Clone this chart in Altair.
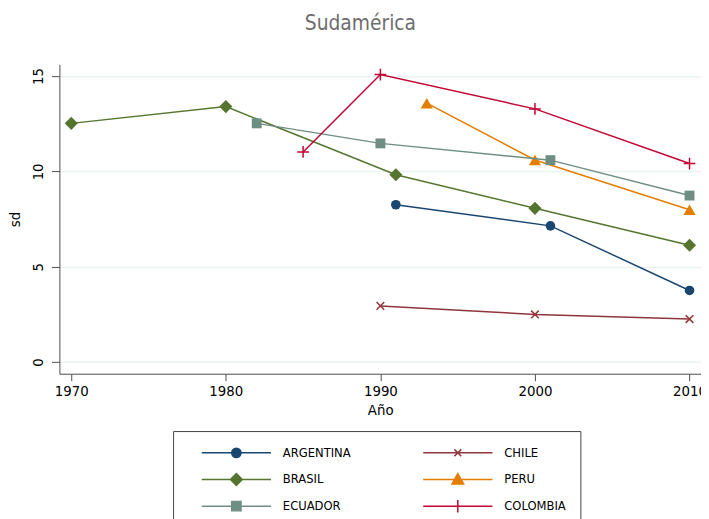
import altair as alt
import pandas as pd

# ---------------- data ----------------
names = ["ARGENTINA", "CHILE", "BRASIL", "PERU", "ECUADOR", "COLOMBIA"]
colors = ["#1a476f", "#90353b", "#55752f", "#e37e00", "#6e8e84", "#c10534"]
legend_order = ["ARGENTINA", "BRASIL", "ECUADOR", "CHILE", "PERU", "COLOMBIA"]

argentina_years = [1991, 2001, 2010]
argentina_sd = [8.25, 7.14, 3.75]
chile_years = [1990, 2000, 2010]
chile_sd = [2.94, 2.49, 2.25]
brasil_years = [1970, 1980, 1991, 2000, 2010]
brasil_sd = [12.52, 13.40, 9.82, 8.06, 6.12]
peru_years = [1993, 2000, 2010]
peru_sd = [13.58, 10.60, 7.99]
ecuador_years = [1982, 1990, 2001, 2010]
ecuador_sd = [12.52, 11.47, 10.59, 8.73]
colombia_years = [1985, 1990, 2000, 2010]
colombia_sd = [11.02, 15.08, 13.28, 10.41]

x_ticks = [1970, 1980, 1990, 2000, 2010]
y_ticks = [0, 5, 10, 15]

series = {
    "ARGENTINA": (argentina_years, argentina_sd),
    "CHILE": (chile_years, chile_sd),
    "BRASIL": (brasil_years, brasil_sd),
    "PERU": (peru_years, peru_sd),
    "ECUADOR": (ecuador_years, ecuador_sd),
    "COLOMBIA": (colombia_years, colombia_sd),
}

rows = []
for n in names:
    ys, vs = series[n]
    for yr, v in zip(ys, vs):
        rows.append({"name": n, "year": yr, "sd": v})
df = pd.DataFrame(rows)

# ---------------- styles ----------------
FONT = "Liberation Sans Narrow, DejaVu Sans Condensed, sans-serif"

marker_style = {
    "ARGENTINA": dict(shape="circle", size=95, filled=True, strokeWidth=0),
    "CHILE": dict(shape="M-1,-1L1,1M-1,1L1,-1", size=60, filled=False, strokeWidth=1.5),
    "BRASIL": dict(shape="diamond", size=175, filled=True, strokeWidth=0),
    "PERU": dict(shape="triangle-up", size=150, filled=True, strokeWidth=0),
    "ECUADOR": dict(shape="square", size=100, filled=True, strokeWidth=0),
    "COLOMBIA": dict(shape="M-1,0H1M0,-1V1", size=140, filled=False, strokeWidth=1.5),
}

legend_paths = {
    "ARGENTINA": "M-1,0H1M-0.135,0A0.135,0.135,0,1,0,0.135,0A0.135,0.135,0,1,0,-0.135,0Z",
    "CHILE": "M-1,0H1M-0.1,-0.1L0.1,0.1M-0.1,0.1L0.1,-0.1",
    "BRASIL": "M-1,0H1M0,-0.17L0.17,0L0,0.17L-0.17,0Z",
    "PERU": "M-1,0H1M0,-0.17L0.17,0.13L-0.17,0.13Z",
    "ECUADOR": "M-1,0H1M-0.135,-0.135H0.135V0.135H-0.135Z",
    "COLOMBIA": "M-1,0H1M0,-0.18V0.18",
}

color_of = dict(zip(names, colors))


def ordered(order):
    # same name->colour mapping, listed in the given domain order
    return alt.Scale(domain=order, range=[color_of[n] for n in order])


x_scale = alt.Scale(domain=[1969.233, 2010.742], nice=False, zero=False)
y_scale = alt.Scale(domain=[-0.62, 15.62], nice=False, zero=False)
c_scale = ordered(names[::-1])

x_enc = alt.X(
    "year:Q", scale=x_scale, title="Año",
    axis=alt.Axis(values=x_ticks, format="d", grid=False, tickSize=7,
                  labelPadding=3, titlePadding=4),
)
y_enc = alt.Y(
    "sd:Q", scale=y_scale, title="sd",
    axis=alt.Axis(values=y_ticks, grid=True, tickSize=8, labelAngle=270,
                  labelPadding=6, titlePadding=8),
)

layers = []
for n in names:
    sub = alt.Chart(df).transform_filter(alt.datum.name == n)
    layers.append(
        sub.mark_line(strokeWidth=1.5).encode(
            x=x_enc, y=y_enc, color=alt.Color("name:N", scale=c_scale, legend=None)
        )
    )
    layers.append(
        sub.mark_point(opacity=1, **marker_style[n]).encode(
            x=x_enc, y=y_enc, color=alt.Color("name:N", scale=c_scale, legend=None)
        )
    )

legend = alt.Legend(
    title=None, orient="none", legendX=115, legendY=371, columns=2,
    columnPadding=58, rowPadding=11, symbolSize=4900, symbolStrokeWidth=1.5,
    clipHeight=16, labelFont=FONT, labelFontSize=13, labelColor="black",
    symbolOffset=14, labelOffset=11, padding=14, strokeColor="#444444",
    symbolOpacity=1,
)

legend_layer = alt.Chart(df).mark_point(
    filled=True, strokeWidth=1.5, opacity=0
).encode(
    x=x_enc, y=y_enc,
    fill=alt.Fill("name:N", scale=ordered(legend_order), legend=legend),
    stroke=alt.Stroke("name:N", scale=ordered(legend_order), legend=legend),
    shape=alt.Shape(
        "name:N",
        scale=alt.Scale(domain=legend_order, range=[legend_paths[n] for n in legend_order]),
        legend=legend,
    ),
)
layers.append(legend_layer)

chart = alt.layer(*layers).properties(
    width=649, height=313,
    padding={"left": 52, "top": 54, "right": 0, "bottom": 144},
    autosize=alt.AutoSizeParams(type="none"),
    background="white",
    title=alt.TitleParams("Sudamérica", fontSize=21, font=FONT, color="#6e6e6e",
                          fontWeight="normal", anchor="middle", dx=-20,
                          baseline="alphabetic", offset=14),
).configure_view(stroke=None).configure_axis(
    labelFont=FONT, labelFontSize=15, labelColor="black",
    titleFont=FONT, titleFontSize=15, titleColor="black", titleFontWeight="normal",
    domainColor="#4d4d4d", tickColor="#4d4d4d", domainWidth=1, tickWidth=1,
    gridColor="#eaf2f3", gridWidth=1.5,
)

chart.save("out.html", embed_options={"renderer": "svg", "actions": False})
